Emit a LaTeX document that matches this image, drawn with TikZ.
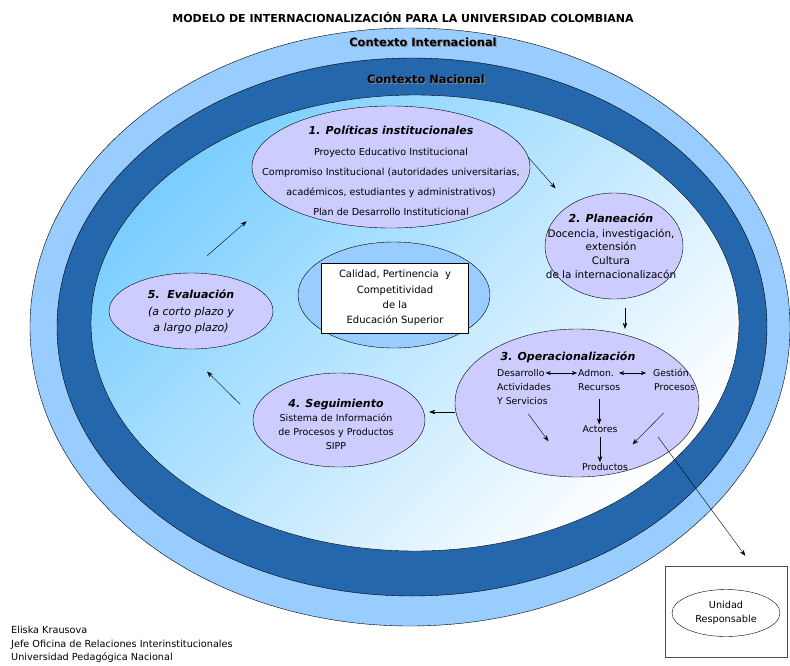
\documentclass[tikz,border=0pt]{standalone}
\usepackage{fontspec}
\setmainfont{DejaVu Sans}
\usetikzlibrary{shapes.geometric, arrows, arrows.meta, positioning}
\definecolor{outerBlue}{RGB}{153,204,255}
\definecolor{darkBlue}{RGB}{36,103,172}
\definecolor{innerCyan}{RGB}{122,206,255}
\definecolor{lavender}{RGB}{204,204,255}
\tikzstyle{ringNode} = [ellipse, draw=black, inner sep=0pt]
\tikzstyle{ovalNode} = [ellipse, draw=black, fill=lavender, inner sep=0pt]
\tikzstyle{txtNode} = [align=center, inner sep=1pt]
\tikzstyle{opeTxt} = [anchor=west, inner sep=1pt, font=\fontsize{9.3}{11}\selectfont]
\tikzstyle{arrow} = [->,>={Stealth[length=6pt,width=4.5pt]},draw=black]
\tikzstyle{arrowD} = [<->,>={Stealth[length=5pt,width=4pt]},draw=black]
\newcommand{\sombra}[1]{\rlap{\kern0.9pt\raisebox{-0.9pt}{\color{black!45}#1}}#1}
\newcommand{\tituloOval}{\fontsize{11}{13}\selectfont\bfseries\itshape}

\begin{document}
\begin{tikzpicture}[x=1pt, y=-1pt]
    \useasboundingbox (0,0) rectangle (790,665);
    % contextos
    \node (intl) [ringNode, fill=outerBlue, minimum width=760, minimum height=598] at (410,327) {};
    \node (nac) [ringNode, fill=darkBlue, minimum width=710, minimum height=538] at (412,327) {};
    \node (inst) [ringNode, top color=innerCyan, bottom color=white, shading angle=45, minimum width=648, minimum height=456] at (415,323) {};

    \node (titulo) [font=\fontsize{11}{12}\selectfont\bfseries] at (403,17) {MODELO DE INTERNACIONALIZACIÓN PARA LA UNIVERSIDAD COLOMBIANA};
    \node (ctxI) [font=\fontsize{11.4}{13}\selectfont\bfseries] at (423,43) {\sombra{Contexto Internacional}};
    \node (ctxN) [font=\fontsize{11.4}{13}\selectfont\bfseries] at (426,80) {\sombra{Contexto Nacional}};

    % fases
    \node (pol) [ovalNode, minimum width=278, minimum height=122] at (391,167) {};
    \node (polT) [txtNode, font=\fontsize{9.6}{20}\selectfont] at (391,171) {{\tituloOval 1. Políticas institucionales}\\[1pt] Proyecto Educativo Institucional\\ Compromiso Institucional (autoridades universitarias,\\ académicos, estudiantes y administrativos)\\ Plan de Desarrollo Instituticional};

    \node (plan) [ovalNode, minimum width=138, minimum height=106] at (614,246) {};
    \node (planT) [txtNode, font=\fontsize{10.4}{13.7}\selectfont] at (611,246) {{\tituloOval 2. Planeación}\\[1pt] Docencia, investigación,\\ extensión\\ Cultura\\ de la internacionalizacón};

    \node (cen) [ringNode, fill=outerBlue, minimum width=192, minimum height=106] at (394,295) {};
    \node (cal) [draw=black, fill=white, minimum width=147, minimum height=70, align=center, font=\fontsize{10}{15.3}\selectfont] at (395,298) {Calidad, Pertinencia\ \ y\\ Competitividad\\ de la\\ Educación Superior};

    \node (eva) [ovalNode, minimum width=164, minimum height=76] at (191,311) {};
    \node (evaT) [txtNode, font=\fontsize{11}{16.5}\selectfont\itshape] at (191,312) {{\bfseries 5.\ \ Evaluación}\\ (a corto plazo y\\ a largo plazo)};

    \node (seg) [ovalNode, minimum width=172, minimum height=94] at (339,420) {};
    \node (segT) [txtNode, font=\fontsize{9.5}{14}\selectfont] at (336,424) {{\tituloOval 4. Seguimiento}\\ Sistema de Información\\ de Procesos y Productos\\ SIPP};

    \node (ope) [ovalNode, minimum width=244, minimum height=148] at (577,403) {};
    \node (opeT) [font=\tituloOval] at (568,357) {3. Operacionalización};
    \node (des1) [opeTxt] at (496,373) {Desarrollo};
    \node (des2) [opeTxt] at (496,387) {Actividades};
    \node (des3) [opeTxt] at (496,401) {Y Servicios};
    \node (adm1) [opeTxt] at (577,373) {Admon.};
    \node (adm2) [opeTxt] at (577,387) {Recursos};
    \node (ges1) [opeTxt] at (652,373) {Gestión};
    \node (ges2) [opeTxt] at (653,387) {Procesos};
    \node (act) [inner sep=1pt, font=\fontsize{9.3}{11}\selectfont] at (600,429) {Actores};
    \node (prod) [inner sep=1pt, font=\fontsize{9.3}{11}\selectfont] at (605,467) {Productos};
    \coordinate (opeOut) at (658,437);

    \node (unit) [draw=black!70, minimum width=122, minimum height=91] at (726,612) {};
    \node (unitOv) [ellipse, draw=black, inner sep=0pt, minimum width=108, minimum height=47, align=center, font=\fontsize{9.7}{14}\selectfont] at (726,613) {Unidad\\Responsable};

    \node (autor) [anchor=north west, align=left, inner sep=0pt, font=\fontsize{9.7}{13.5}\selectfont] at (11,626) {Eliska Krausova\\ Jefe Oficina de Relaciones Interinstitucionales\\ Universidad Pedagógica Nacional};

    % ciclo
    \draw [arrow, shorten >=22pt] (pol.4) -- (plan.137);
    \draw [arrow, shorten <=9pt] ([xshift=11pt]plan.south) -- ([xshift=11pt]plan.south |- ope.north);
    \draw [arrow, shorten >=4pt] ([yshift=-9pt]ope.west) -- ([yshift=-9pt]ope.west -| seg.east);
    \draw [arrow, shorten <=18pt, shorten >=32pt] (seg.178) -- (eva.260);
    \draw [arrow, shorten <=26pt, shorten >=34pt] (eva.95) -- (pol.195);

    % operacionalizacion
    \draw [arrowD] (des1) -- (adm1);
    \draw [arrowD, shorten <=4pt, shorten >=6pt] (adm1) -- (ges1);
    \draw [arrow, shorten <=7pt] (adm2.south) -- (adm2.south |- act.north);
    \draw [arrow, shorten <=3pt] (act.south) -- (act.south |- prod.north);
    \draw [arrow, shorten <=10pt, shorten >=38pt] (des3.south) -- ([xshift=-10pt]prod.south west);
    \draw [arrow, shorten <=30pt, shorten >=25pt] ([xshift=10pt]ges2.south) -- ([xshift=10pt]prod.north);
    \draw [arrow, shorten >=13pt] (opeOut) -- ([xshift=27pt]unit.north);
\end{tikzpicture}
\end{document}
